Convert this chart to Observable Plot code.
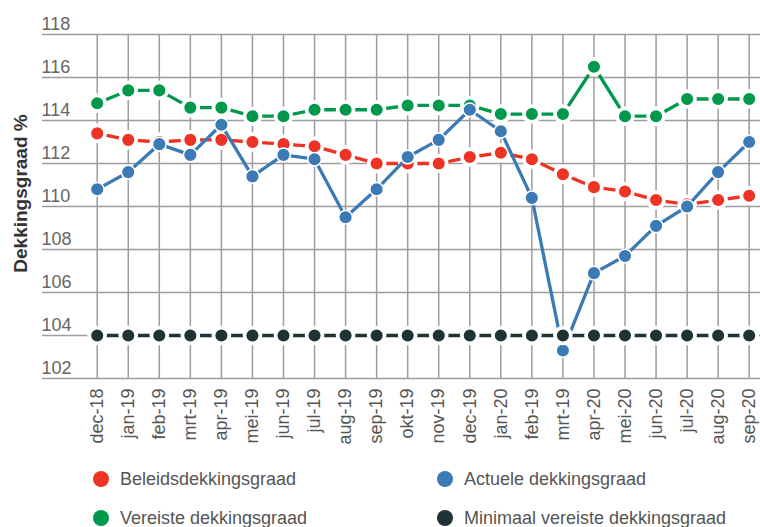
<!DOCTYPE html>
<html><head><meta charset="utf-8">
<script src="https://cdn.jsdelivr.net/npm/d3@7"></script>
<script src="https://cdn.jsdelivr.net/npm/@observablehq/plot@0.6"></script>
<style>
body{margin:0;background:#fff;font-family:"Liberation Sans",Arial,sans-serif;}
#wrap{position:relative;width:760px;height:527px;overflow:hidden}
#legend{position:absolute;left:0;top:455px;width:760px;height:72px}
.item{position:absolute;display:flex;align-items:center;font-size:18px;color:#555;height:22px;white-space:nowrap}
.sw{width:16px;height:16px;border-radius:50%;margin-right:11px;flex:none}
</style></head><body>
<div id="wrap"><div id="chart"></div><div id="legend"></div></div>
<script>
const labels = ["dec-18","jan-19","feb-19","mrt-19","apr-19","mei-19","jun-19","jul-19","aug-19","sep-19","okt-19","nov-19","dec-19","jan-20","feb-19","mrt-19","apr-20","mei-20","jun-20","jul-20","aug-20","sep-20"];
const beleids = [113.4,113.1,113.0,113.1,113.1,113.0,112.9,112.8,112.4,112.0,112.0,112.0,112.3,112.5,112.2,111.5,110.9,110.7,110.3,110.1,110.3,110.5];
const actuele = [110.8,111.6,112.9,112.4,113.8,111.4,112.4,112.2,109.5,110.8,112.3,113.1,114.5,113.5,110.4,103.3,106.9,107.7,109.1,110.0,111.6,113.0];
const vereiste = [114.8,115.4,115.4,114.6,114.6,114.2,114.2,114.5,114.5,114.5,114.7,114.7,114.7,114.3,114.3,114.3,116.5,114.2,114.2,115.0,115.0,115.0];
const minimaal = [104,104,104,104,104,104,104,104,104,104,104,104,104,104,104,104,104,104,104,104,104,104];
const yTicks = [102,104,106,108,110,112,114,116,118];
const seriesNames = ["Beleidsdekkingsgraad","Actuele dekkingsgraad","Vereiste dekkingsgraad","Minimaal vereiste dekkingsgraad"];
const seriesColors = ["#ee3224","#3b7ab4","#00994c","#1f3236"];

const idx = labels.map((_, i) => i);
// drawing order: green, red, blue, black; dashed series get a white halo around each dot
const series = [
  {values: vereiste, color: seriesColors[2], dashed: true},
  {values: beleids, color: seriesColors[0], dashed: true},
  {values: actuele, color: seriesColors[1], dashed: false},
  {values: minimaal, color: seriesColors[3], dashed: true}
];

const marks = [
  Plot.ruleY(yTicks, {stroke: "#9c9c9c", strokeWidth: 1.5}),
  Plot.ruleX(idx, {stroke: "#9c9c9c", strokeWidth: 1.5}),
  Plot.text(yTicks, {y: d => d, text: d => String(d), frameAnchor: "left", textAnchor: "start", dx: -1, dy: -10, fontSize: 18, fill: "#666"}),
  Plot.text(["Dekkingsgraad %"], {text: d => d, frameAnchor: "left", textAnchor: "middle", dx: -22, dy: -13, rotate: -90, fontSize: 19, fontWeight: "bold", fill: "#333"}),
  Plot.axisX(idx, {tickFormat: i => labels[i], tickRotate: -90, tickSize: 0, tickPadding: 10, fontSize: 18, fill: "#555", label: null})
];
for (const s of series) {
  const rows = s.values.map((v, i) => ({i, v}));
  marks.push(Plot.line(rows, {x: "i", y: "v", stroke: s.color, strokeWidth: 3.3}));
  if (s.dashed) marks.push(Plot.dot(rows, {x: "i", y: "v", r: 9.8, fill: "#fff", stroke: "none"}));
  marks.push(Plot.dot(rows, {x: "i", y: "v", r: 6.8, fill: s.color, stroke: "#fff", strokeWidth: 1.5}));
}

const chart = Plot.plot({
  width: 760,
  height: 455,
  marginTop: 34,
  marginBottom: 77,
  marginLeft: 42,
  marginRight: 0,
  x: {type: "linear", domain: [-1.762, 21.364], axis: null},
  y: {domain: [102, 118], axis: null},
  style: {fontFamily: "Liberation Sans, Arial, sans-serif", background: "#fff"},
  marks
});
document.getElementById("chart").appendChild(chart);

const legend = document.getElementById("legend");
const pos = [[93, 479], [437, 479], [93, 518], [437, 518]];
seriesNames.forEach((n, k) => {
  const it = document.createElement("div");
  it.className = "item";
  it.style.left = pos[k][0] + "px";
  it.style.top = (pos[k][1] - 455 - 11) + "px";
  const sw = document.createElement("span");
  sw.className = "sw";
  sw.style.background = seriesColors[k];
  const tx = document.createElement("span");
  tx.textContent = n;
  it.appendChild(sw); it.appendChild(tx);
  legend.appendChild(it);
});
</script>
</body></html>
